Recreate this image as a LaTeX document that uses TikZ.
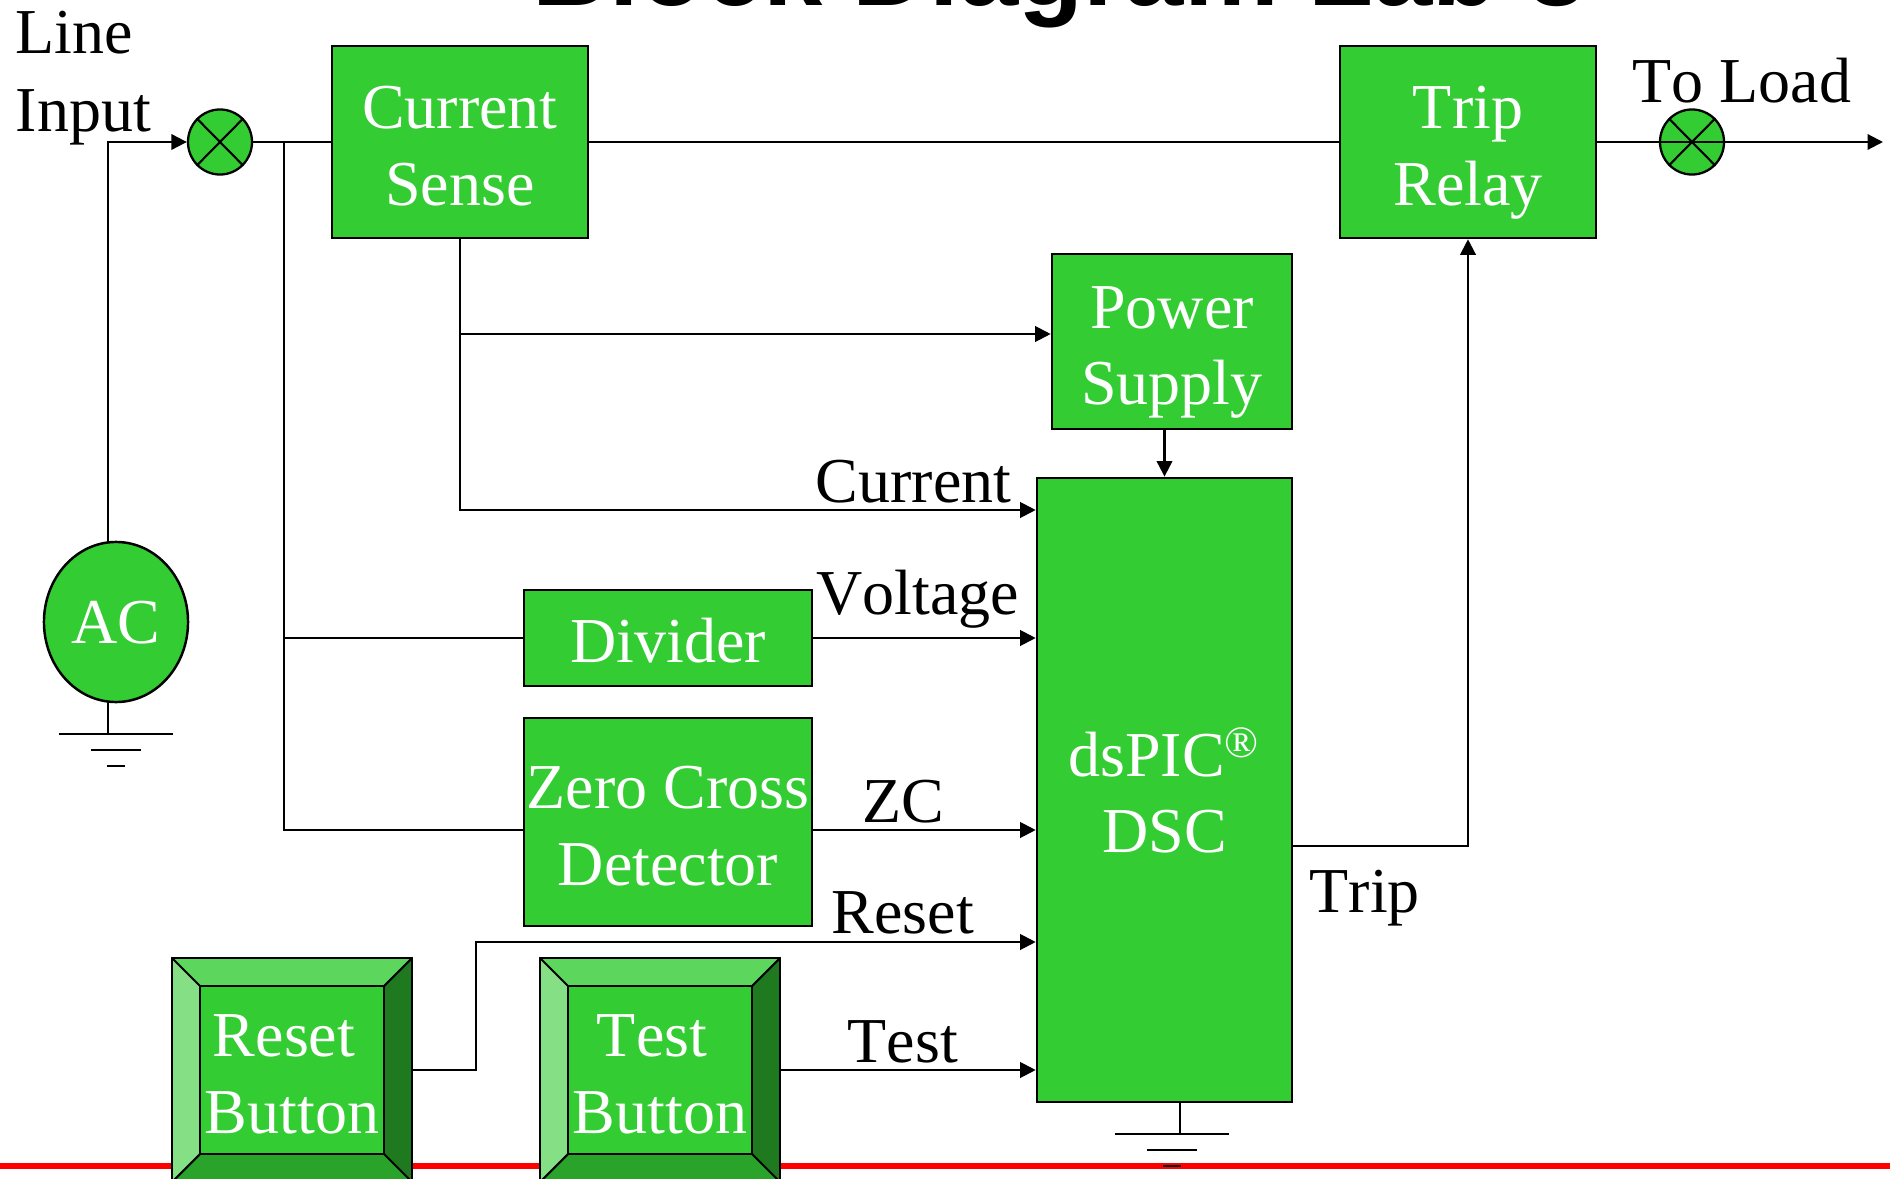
\documentclass[tikz,border=0pt]{standalone}
\usepackage{fontspec}
\setmainfont{Liberation Serif}[Kerning=Off]
\newfontfamily\titlefont{Liberation Sans}
\usetikzlibrary{arrows.meta,shapes.geometric}
\definecolor{blockgreen}{RGB}{51,204,51}
\definecolor{bevellight}{RGB}{133,224,133}
\definecolor{beveltop}{RGB}{92,214,92}
\definecolor{beveldark}{RGB}{31,122,31}
\definecolor{bevelbottom}{RGB}{41,163,41}
\newcommand{\blockrise}{\rule{0pt}{0.50cm}}
\tikzset{
    wire/.style={line width=0.6pt},
    feed/.style={wire,-{Triangle[length=4.4pt,width=4.4pt]}},
    block/.style={draw,line width=0.7pt,fill=blockgreen,text=white,align=center,
        inner sep=0pt,text depth=0pt,font=\fontsize{18.2}{21.8}\selectfont},
    sumpoint/.style={draw,line width=0.65pt,fill=blockgreen,ellipse,inner sep=0pt,
        minimum width=0.64cm,minimum height=0.65cm},
    tag/.style={inner sep=0pt,anchor=base west,font=\fontsize{18.2}{21.8}\selectfont},
    bevel/.style={draw,line width=0.6pt}
}
\begin{document}
\begin{tikzpicture}[x=0.01cm,y=-0.01cm]
    \useasboundingbox (0,0) rectangle (1890,1179);
    \clip (0,0) rectangle (1890,1179);

    % Title, cut off by the page
    \node[anchor=base,inner sep=0pt,font=\titlefont\bfseries\fontsize{30.3}{36}\selectfont] (title) at (1060,6) {Block Diagram Lab 3};

    % Red rule
    \draw[red,line width=1.5pt] (0,1166) -- (1890,1166);

    % Blocks
    \node[block,minimum width=2.56cm,minimum height=1.92cm] (sense) at (460,142) {\blockrise Current\\Sense};
    \node[block,minimum width=2.56cm,minimum height=1.92cm] (relay) at (1468,142) {\blockrise Trip\\Relay};
    \node[block,minimum width=2.40cm,minimum height=1.75cm] (supply) at (1172,341.5) {\blockrise Power\\Supply};
    \node[block,minimum width=2.55cm,minimum height=6.24cm] (dsc) at (1164.5,790) {\rule{0pt}{0.49cm}dsPIC\smash{\raisebox{-1pt}{\textsuperscript{\textregistered}}}\\DSC};
    \node[block,minimum width=2.88cm,minimum height=0.96cm] (divider) at (668,638) {\rule{0pt}{0.49cm}Divider};
    \node[block,minimum width=2.88cm,minimum height=2.08cm] (zero) at (668,822) {\blockrise Zero Cross\\Detector};
    \node[block,ellipse,minimum width=1.44cm,minimum height=1.60cm] (ac) at (116,622) {AC};

    % Summing points
    \node[sumpoint] (linesum) at (220,142) {};
    \node[sumpoint] (loadsum) at (1692,142) {};
    \foreach \s in {linesum,loadsum} {
        \draw[wire] (\s.north west) -- (\s.south east);
        \draw[wire] (\s.north east) -- (\s.south west);
    }

    % Reset button
    \fill[bevellight] (172,958) -- (200,986) -- (200,1154) -- (172,1182) -- cycle;
    \fill[beveltop] (172,958) -- (412,958) -- (384,986) -- (200,986) -- cycle;
    \fill[beveldark] (412,958) -- (412,1182) -- (384,1154) -- (384,986) -- cycle;
    \fill[bevelbottom] (172,1182) -- (200,1154) -- (384,1154) -- (412,1182) -- cycle;
    \draw[bevel] (172,958) -- (200,986) (412,958) -- (384,986) (172,1182) -- (200,1154) (412,1182) -- (384,1154);
    \node[block,minimum width=1.84cm,minimum height=1.68cm] (resetbtn) at (292,1070) {\blockrise Reset\hspace*{.25em}\\Button};
    \draw[bevel] (172,958) rectangle (412,1182);

    % Test button
    \fill[bevellight] (540,958) -- (568,986) -- (568,1154) -- (540,1182) -- cycle;
    \fill[beveltop] (540,958) -- (780,958) -- (752,986) -- (568,986) -- cycle;
    \fill[beveldark] (780,958) -- (780,1182) -- (752,1154) -- (752,986) -- cycle;
    \fill[bevelbottom] (540,1182) -- (568,1154) -- (752,1154) -- (780,1182) -- cycle;
    \draw[bevel] (540,958) -- (568,986) (780,958) -- (752,986) (540,1182) -- (568,1154) (780,1182) -- (752,1154);
    \node[block,minimum width=1.84cm,minimum height=1.68cm] (testbtn) at (660,1070) {\blockrise Test\hspace*{.25em}\\Button};
    \draw[bevel] (540,958) rectangle (780,1182);

    % Free ends and junctions
    \coordinate (acstem) at (108,542);
    \coordinate (acfoot) at (108,702);
    \coordinate (tap) at (284,142);
    \coordinate (outlet) at (1883,142);
    \coordinate (dscfoot) at (1180,1102);

    % Main line
    \draw[feed] (acstem) -- (108,142) -- (linesum.west);
    \draw[wire] (linesum.east) -- (sense.west);
    \draw[wire] (sense.east) -- (relay.west);
    \draw[feed] (relay.east) -- (outlet);

    % Sense outputs
    \draw[feed] (sense.south) |- (supply.west |- 0,334);
    \draw[feed] (sense.south) |- (dsc.west |- 0,510);
    \draw[feed] (dsc.north |- supply.south) -- (dsc.north);

    % Measurements
    \draw[wire] (tap) |- (zero.west |- 0,830);
    \draw[wire] (tap |- divider.west) -- (divider.west);
    \draw[feed] (divider.east) -- (dsc.west |- divider.east);
    \draw[feed] (zero.east |- 0,830) -- (dsc.west |- 0,830);

    % Buttons
    \draw[feed] (412,1070) -- (476,1070) -- (476,942) -- (dsc.west |- 0,942);
    \draw[feed] (780,1070) -- (dsc.west |- 0,1070);

    % Trip
    \draw[feed] (dsc.east |- 0,846) -| (relay.south);

    % Grounds
    \draw[wire] (acfoot) -- (108,734);
    \draw[wire] (59,734) -- (173,734) (91,750) -- (141,750) (107,766) -- (125,766);
    \draw[wire] (dscfoot) -- (1180,1134);
    \draw[wire] (1115,1134) -- (1229,1134) (1147,1150) -- (1197,1150) (1163,1166) -- (1181,1166);

    % Labels
    \node[tag] (lineword) at (15,54) {Line};
    \node[tag] (inputword) at (15,132) {Input};
    \node[tag] (toload) at (1632,103) {To Load};
    \node[tag] (currentword) at (815,502) {Current};
    \node[tag] (voltageword) at (816,614) {Voltage};
    \node[tag] (zcword) at (862,822) {ZC};
    \node[tag] (resetword) at (831,933) {Reset};
    \node[tag] (testword) at (847,1062) {Test};
    \node[tag] (tripword) at (1309,912) {Trip};
\end{tikzpicture}
\end{document}
